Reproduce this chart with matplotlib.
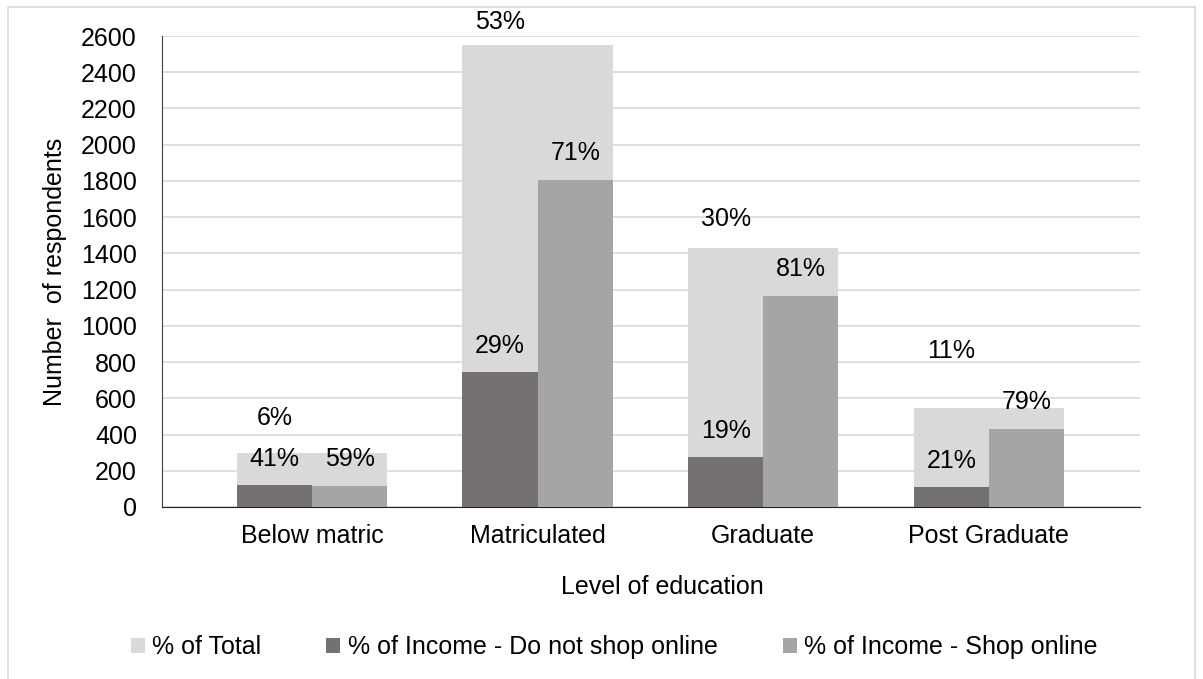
import numpy as np
import matplotlib

matplotlib.use("Agg")
import matplotlib.pyplot as plt
from matplotlib.patches import Rectangle

plt.rcParams["font.family"] = ["Liberation Sans", "DejaVu Sans"]

# respondents by level of education
categories = ["Below matric", "Matriculated", "Graduate", "Post Graduate"]
total = [298, 2550, 1432, 545]
no_shop = [122, 745, 278, 113]
shop = [115, 1805, 1165, 432]
total_pct = ["6%", "53%", "30%", "11%"]
no_shop_pct = ["41%", "29%", "19%", "21%"]
shop_pct = ["59%", "71%", "81%", "79%"]
yticks = list(range(0, 2601, 200))

C_TOTAL, C_NO, C_SHOP = "#d9d9d9", "#767171", "#a5a5a5"
GRID = "#d9d9d9"
FS = 18

W, H = 1203, 679
fig = plt.figure(figsize=(W / 100, H / 100), dpi=100)
fig.patch.set_facecolor("white")
ax = fig.add_axes([162 / W, 1 - 507 / H, 978 / W, 471 / H])

x = np.arange(len(categories))
w = 1 / 3
ax.bar(x, total, width=2 * w, color=C_TOTAL, label="% of Total", zorder=2)
ax.bar(x - w / 2, no_shop, width=w, color=C_NO, label="% of Income - Do not shop online", zorder=3)
ax.bar(x + w / 2, shop, width=w, color=C_SHOP, label="% of Income - Shop online", zorder=3)

# label offsets in pixels above the bar tops
total_off = [35, 23, 29, 57]
for i in range(len(categories)):
    ax.annotate(total_pct[i], (x[i] - w / 2, total[i]), xytext=(0, total_off[i]),
                textcoords="offset pixels", ha="center", va="center", fontsize=FS)
    ax.annotate(no_shop_pct[i], (x[i] - w / 2, no_shop[i]), xytext=(0, 26),
                textcoords="offset pixels", ha="center", va="center", fontsize=FS)
    ax.annotate(shop_pct[i], (x[i] + w / 2, shop[i]), xytext=(0, 27),
                textcoords="offset pixels", ha="center", va="center", fontsize=FS)

ax.set_ylim(0, 2600)
ax.set_xlim(-0.665, 3.67)
ax.set_yticks(yticks)
ax.set_xticks(x)
ax.set_xticklabels(categories)
ax.tick_params(axis="y", length=0, pad=18, labelsize=FS)
ax.tick_params(axis="x", length=0, pad=12, labelsize=FS)
ax.yaxis.grid(True, color=GRID, linewidth=1.2, zorder=0)
ax.set_axisbelow(True)
for s in ("top", "right"):
    ax.spines[s].set_visible(False)
ax.spines["left"].set_color("#404040")
ax.spines["bottom"].set_color("#202020")

fig.text(662 / W, 1 - 594 / H, "Level of education", ha="center", va="baseline", fontsize=FS)
fig.text(55 / W, 1 - 272 / H, "Number  of respondents", ha="center", va="center",
         rotation=90, fontsize=FS)

handles, labels = ax.get_legend_handles_labels()
fig.legend(handles, labels, loc="center", bbox_to_anchor=(614 / W, 1 - 647 / H), ncol=3,
           frameon=False, fontsize=FS, handlelength=0.56, handleheight=0.55,
           handletextpad=0.3, columnspacing=2.6, borderpad=0)

fig.add_artist(Rectangle((8 / W, -0.05), 1187 / W, 1.05 - 7 / H, transform=fig.transFigure,
                         fill=False, edgecolor="#d9d9d9", linewidth=1.2))

fig.savefig("out.png", dpi=100, facecolor="white")
